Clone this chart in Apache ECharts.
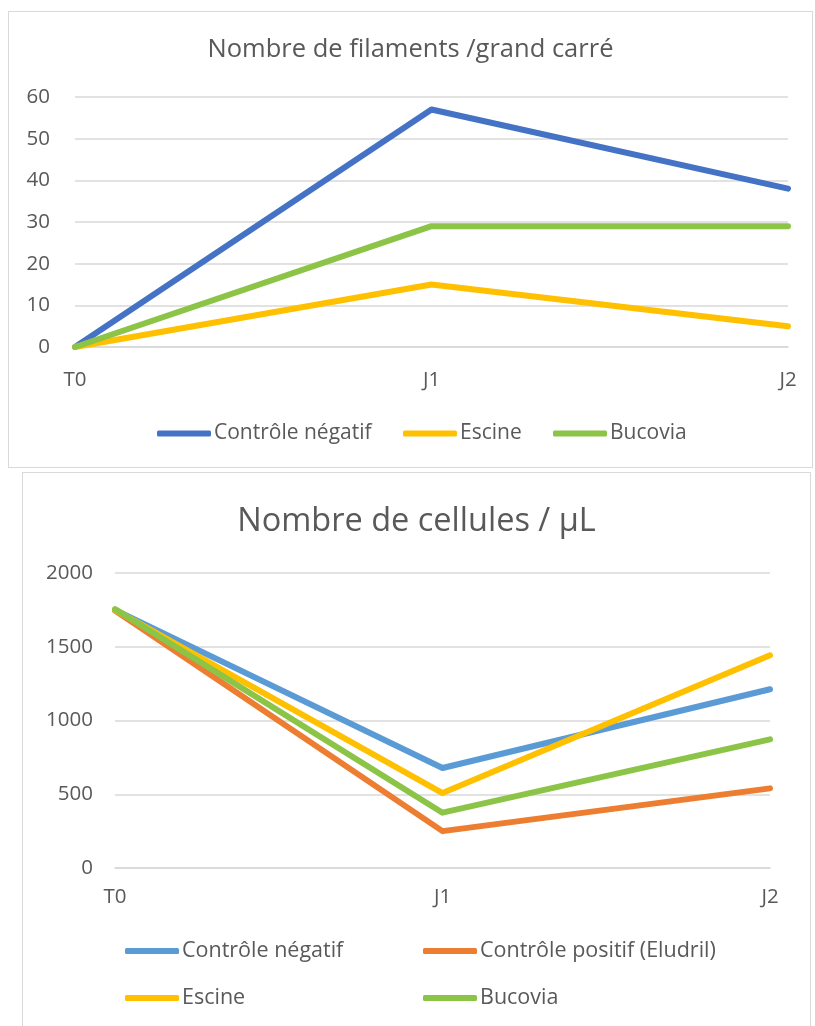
<!DOCTYPE html>
<html>
<head>
<meta charset="utf-8">
<script src="https://cdn.jsdelivr.net/npm/echarts@6/dist/echarts.min.js"></script>
<style>
  html, body { margin: 0; padding: 0; background: #fff; width: 815px; height: 1026px; overflow: hidden; }
  .frame { position: absolute; border: 1px solid #d9d9d9; background: #fff; box-sizing: border-box; }
  #chartA { left: 8px; top: 11px; width: 805px; height: 457px; }
  #chartB { left: 22px; top: 472px; width: 789px; height: 570px; }
</style>
</head>
<body>
<div id="chartA" class="frame"></div>
<div id="chartB" class="frame"></div>
<script>
// Sampling days shared by both charts
const days = ['T0', 'J1', 'J2'];

// Filaments per large square
const filTitle = 'Nombre de filaments /grand carré';
const filNames = ['Contrôle négatif', 'Escine', 'Bucovia'];
const filNegatif = [0, 57, 38];
const filEscine = [0, 15, 5];
const filBucovia = [0, 29, 29];
const filTicks = [0, 10, 20, 30, 40, 50, 60];

// Cells per microlitre
const celTitle = 'Nombre de cellules / µL';
const celNames = ['Contrôle négatif', 'Contrôle positif (Eludril)', 'Escine', 'Bucovia'];
const celNegatif = [1750, 678, 1212];
const celEludril = [1745, 250, 540];
const celEscine = [1750, 508, 1442];
const celBucovia = [1755, 375, 872];
const celTicks = [0, 500, 1000, 1500, 2000];

const FONT = '"Open Sans", sans-serif';
const TXT = '#595959';
const GRID = '#d9d9d9';

function lineSeries(name, data, color) {
  return {
    name: name, type: 'line', data: data, symbol: 'none',
    lineStyle: { color: color, width: 6, cap: 'round', join: 'round' },
    itemStyle: { color: color }
  };
}

function legendItem(name, left, top, size) {
  return {
    data: [name], left: left, top: top,
    icon: 'roundRect', itemWidth: 54, itemHeight: 6, itemGap: 0,
    padding: 0,
    textStyle: { fontFamily: FONT, fontSize: size, color: TXT, padding: [0, 0, 0, -2] }
  };
}

function valueAxis(ticks, labelMargin) {
  return {
    type: 'value', min: ticks[0], max: ticks[ticks.length - 1],
    interval: ticks[1] - ticks[0],
    axisLine: { show: false }, axisTick: { show: false },
    axisLabel: {
      fontFamily: FONT, fontSize: 20.5, color: TXT, margin: labelMargin,
      formatter: function (v) { return String(v); }
    },
    splitLine: { lineStyle: { color: GRID, width: 1.5 } }
  };
}

function categoryAxis(labelMargin) {
  return {
    type: 'category', data: days, boundaryGap: false,
    axisLine: { lineStyle: { color: GRID, width: 1.5 } },
    axisTick: { show: false },
    axisLabel: { fontFamily: FONT, fontSize: 20.5, color: TXT, margin: labelMargin }
  };
}

// Top chart
const chartA = echarts.init(document.getElementById('chartA'));
chartA.setOption({
  animation: false,
  title: {
    text: filTitle, left: 'center', top: 20,
    textStyle: { fontFamily: FONT, fontSize: 25.5, fontWeight: 'normal', color: TXT }
  },
  grid: { left: 66, right: 24, top: 85, height: 250 },
  xAxis: categoryAxis(23),
  yAxis: valueAxis(filTicks, 25),
  legend: [
    legendItem(filNames[0], 148, 411, 21),
    legendItem(filNames[1], 394, 411, 21),
    legendItem(filNames[2], 544, 411, 21)
  ],
  series: [
    lineSeries(filNames[0], filNegatif, '#4472C4'),
    lineSeries(filNames[1], filEscine, '#FFC000'),
    lineSeries(filNames[2], filBucovia, '#8CC447')
  ]
});

// Bottom chart
const chartB = echarts.init(document.getElementById('chartB'));
chartB.setOption({
  animation: false,
  title: {
    text: celTitle, left: 'center', top: 27,
    textStyle: { fontFamily: FONT, fontSize: 32.5, fontWeight: 'normal', color: TXT }
  },
  grid: { left: 92, right: 40, top: 100, height: 295 },
  xAxis: categoryAxis(19),
  yAxis: valueAxis(celTicks, 22),
  legend: [
    legendItem(celNames[0], 102, 467, 21.5),
    legendItem(celNames[1], 400, 467, 21.5),
    legendItem(celNames[2], 102, 514, 21.5),
    legendItem(celNames[3], 400, 514, 21.5)
  ],
  series: [
    lineSeries(celNames[0], celNegatif, '#5B9BD5'),
    lineSeries(celNames[1], celEludril, '#ED7D31'),
    lineSeries(celNames[2], celEscine, '#FFC000'),
    lineSeries(celNames[3], celBucovia, '#8CC447')
  ]
});
</script>
</body>
</html>
